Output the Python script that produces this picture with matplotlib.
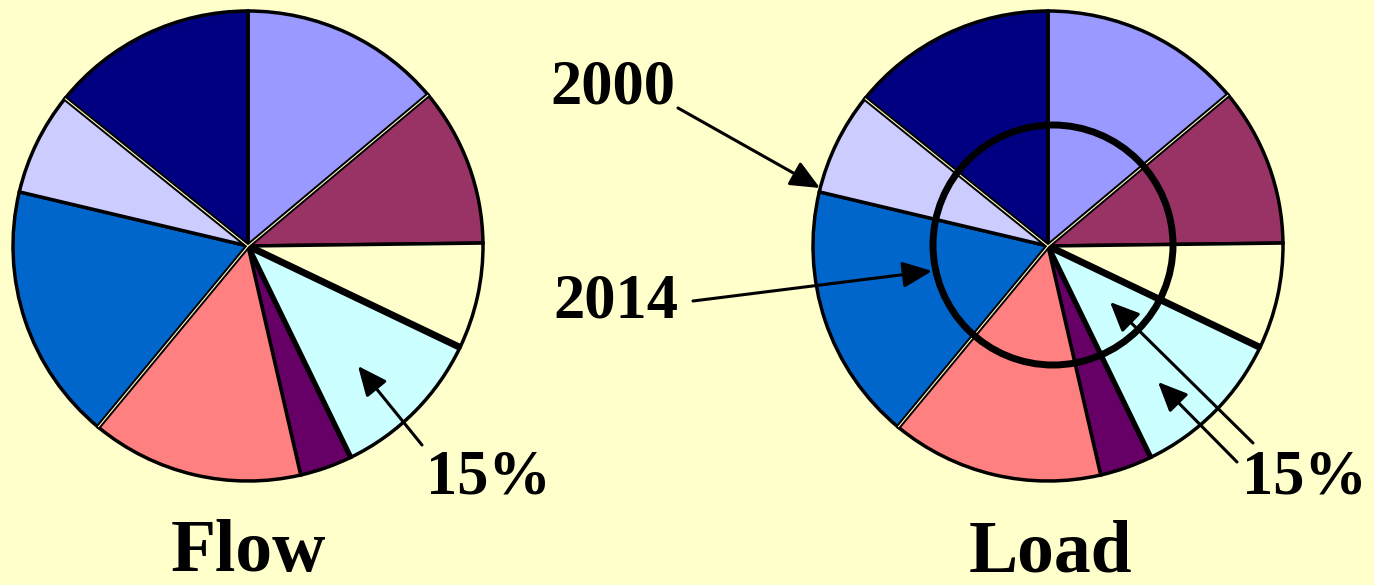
import numpy as np
import matplotlib
matplotlib.use("Agg")
import matplotlib.pyplot as plt
from matplotlib.patches import Circle

# slice shares (%), clockwise from 12 o'clock, same split for both pies
shares = [13.9, 10.9, 7.3, 10.7, 3.6, 14.6, 17.7, 7.1, 14.2]
colors = ["#9999FF", "#993366", "#FFFFCC", "#CCFFFF", "#660066",
          "#FF8080", "#0066CC", "#CCCCFF", "#000080"]
pie_titles = ["Flow", "Load"]
year_labels = ["2000", "2014"]
pct_label = "15%"

BG = "#FFFFCC"
W, H = 1374, 585
plt.rcParams["font.family"] = ["Liberation Serif", "DejaVu Serif"]

fig = plt.figure(figsize=(W / 100, H / 100), dpi=100, facecolor=BG)
ax = fig.add_axes([0, 0, 1, 1])
ax.set_facecolor(BG)


def Y(y):
    # image pixel row -> data y (up)
    return H - y


def draw_pie(cx, cy, r):
    wedges, _ = ax.pie(shares, colors=colors, startangle=90, counterclock=False,
                       center=(cx, Y(cy)), radius=r,
                       wedgeprops=dict(edgecolor="black", linewidth=2.5))

    def ray(i, **kw):
        # wedge theta1 is the edge shared with the next wedge clockwise
        a = np.deg2rad(wedges[i].theta1)
        ax.plot([cx, cx + r * np.cos(a)], [Y(cy), Y(cy) + r * np.sin(a)],
                solid_capstyle="butt", **kw)

    for i in (0, 5, 7):  # double edge with light gap
        ray(i, color="black", lw=3.6, zorder=5)
        ray(i, color=BG, lw=0.8, zorder=6)
    ray(2, color="black", lw=5.0, zorder=5)   # yellow / cyan
    ray(3, color="black", lw=3.8, zorder=5)   # cyan / purple
    return wedges


draw_pie(248, 246, 235)
draw_pie(1048, 246, 235)

# inner ring on the right pie
ax.add_patch(Circle((1053, Y(245)), 120, fill=False, edgecolor="black",
                    lw=5.0, zorder=7))

txt = dict(fontweight="bold", color="black", ha="center", va="center")
ax.text(248, Y(553), pie_titles[0], fontsize=53, **txt)
ax.text(1051, Y(553), pie_titles[1], fontsize=53, **txt)

arrow = dict(arrowstyle="-|>,head_length=0.9,head_width=0.4", color="black",
             lw=2.2, mutation_scale=20, shrinkA=0, shrinkB=0)


def arr(x0, y0, x1, y1):
    ax.annotate("", xy=(x1, Y(y1)), xytext=(x0, Y(y0)), arrowprops=arrow,
                zorder=8)


ax.text(613, Y(88), year_labels[0], fontsize=45, **txt)
arr(678, 108, 820, 188)
ax.text(616, Y(302), year_labels[1], fontsize=45, **txt)
arr(693, 301, 932, 271)

ax.text(488, Y(478), pct_label, fontsize=45, **txt)
arr(422, 445, 358, 366)
ax.text(1304, Y(478), pct_label, fontsize=45, **txt)
arr(1253, 443, 1110, 302)
arr(1237, 462, 1158, 382)

ax.set_xlim(0, W)
ax.set_ylim(0, H)
ax.set_aspect("equal")
ax.set_axis_off()
fig.savefig("out.png", dpi=100, facecolor=BG)
